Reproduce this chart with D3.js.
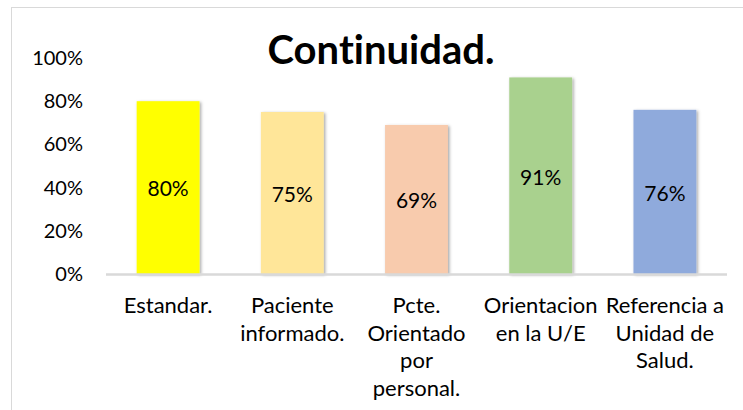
<!DOCTYPE html>
<html>
  <head>
    <meta charset="utf-8" />
    <title>Continuidad.</title>
    <style>
      body {
        margin: 0;
        background: #ffffff;
      }
      text {
        font-family: Lato, "Open Sans", sans-serif;
        font-variant-ligatures: none;
        fill: #000000;
      }
    </style>
  </head>
  <body>
    <svg id="chart" width="743" height="410"></svg>
    <script src="https://d3js.org/d3.v7.min.js"></script>
    <script>
      // data
      const categories = [
        "Estandar.",
        "Paciente informado.",
        "Pcte. Orientado por personal.",
        "Orientacion en la U/E",
        "Referencia a Unidad de Salud.",
      ];
      const values = [0.8, 0.75, 0.69, 0.91, 0.76];
      const barColors = ["#ffff00", "#ffe699", "#f8cbad", "#a9d18e", "#8faadc"];
      const yTicks = [0, 0.2, 0.4, 0.6, 0.8, 1];

      let svg = d3.select("#chart");

      // chart frame (cut off on the right and bottom, like the picture)
      svg
        .append("rect")
        .attr("x", 11.5)
        .attr("y", 7.5)
        .attr("width", 745)
        .attr("height", 420)
        .attr("fill", "#ffffff")
        .attr("stroke", "#d9d9d9")
        .attr("stroke-width", 1);

      // soft shadow under the bars
      let defs = svg.append("defs");
      defs
        .append("filter")
        .attr("id", "shadow")
        .attr("x", "-20%")
        .attr("y", "-10%")
        .attr("width", "150%")
        .attr("height", "130%")
        .append("feDropShadow")
        .attr("dx", 1.5)
        .attr("dy", 1)
        .attr("stdDeviation", 1.8)
        .attr("flood-color", "#000000")
        .attr("flood-opacity", 0.35);

      let xScale = d3
        .scaleBand()
        .domain(categories)
        .range([106, 727])
        .paddingInner(0.494)
        .paddingOuter(0.247);

      let yScale = d3.scaleLinear().domain([0, 1]).range([274, 58]);

      // title
      svg
        .append("text")
        .attr("x", 381)
        .attr("y", 64)
        .attr("text-anchor", "middle")
        .style("font-size", "40px")
        .style("font-weight", "bold")
        .text("Continuidad.");

      // y axis labels (no line, no ticks)
      let yAxis = svg
        .append("g")
        .attr("class", "axis axis-y")
        .attr("transform", "translate(92,0)")
        .call(
          d3
            .axisLeft(yScale)
            .tickValues(yTicks)
            .tickFormat(d3.format(".0%"))
            .tickSize(0)
            .tickPadding(9)
        );
      yAxis.select(".domain").remove();
      yAxis
        .selectAll("text")
        .style("font-size", "20px")
        .style("font-family", "Lato, sans-serif")
        .attr("fill", "#000000");

      // bars
      svg
        .selectAll("rect.bar")
        .data(values)
        .join("rect")
        .attr("class", "bar")
        .attr("x", (d, i) => xScale(categories[i]))
        .attr("y", (d) => yScale(d))
        .attr("width", xScale.bandwidth())
        .attr("height", (d) => yScale(0) - yScale(d))
        .attr("fill", (d, i) => barColors[i])
        .attr("filter", "url(#shadow)");

      // baseline
      svg
        .append("line")
        .attr("x1", 106)
        .attr("x2", 727)
        .attr("y1", yScale(0) + 0.5)
        .attr("y2", yScale(0) + 0.5)
        .attr("stroke", "#d9d9d9")
        .attr("stroke-width", 2.5);

      // value labels in the middle of each bar
      svg
        .selectAll("text.value")
        .data(values)
        .join("text")
        .attr("class", "value")
        .attr("x", (d, i) => xScale(categories[i]) + xScale.bandwidth() / 2)
        .attr("y", (d) => (yScale(d) + yScale(0)) / 2)
        .attr("dy", "0.42em")
        .attr("text-anchor", "middle")
        .style("font-size", "21px")
        .text((d) => d3.format(".0%")(d));

      // category labels, wrapped to the width of a category
      let step = xScale.step();
      let catLabels = svg
        .selectAll("text.cat")
        .data(categories)
        .join("text")
        .attr("class", "cat")
        .attr("x", (d) => xScale(d) + xScale.bandwidth() / 2)
        .attr("y", 313)
        .attr("text-anchor", "middle")
        .style("font-size", "22px");

      catLabels.each(function (d) {
        let el = d3.select(this);
        let words = d.split(" ");
        let lines = [];
        let line = [];
        let probe = el.append("tspan");
        words.forEach(function (w) {
          line.push(w);
          probe.text(line.join(" "));
          if (probe.node().getComputedTextLength() > step && line.length > 1) {
            line.pop();
            lines.push(line.join(" "));
            line = [w];
          }
        });
        lines.push(line.join(" "));
        probe.remove();
        let x = el.attr("x");
        lines.forEach(function (l, i) {
          el.append("tspan")
            .attr("x", x)
            .attr("dy", i == 0 ? 0 : 27.5)
            .text(l);
        });
      });
    </script>
  </body>
</html>
